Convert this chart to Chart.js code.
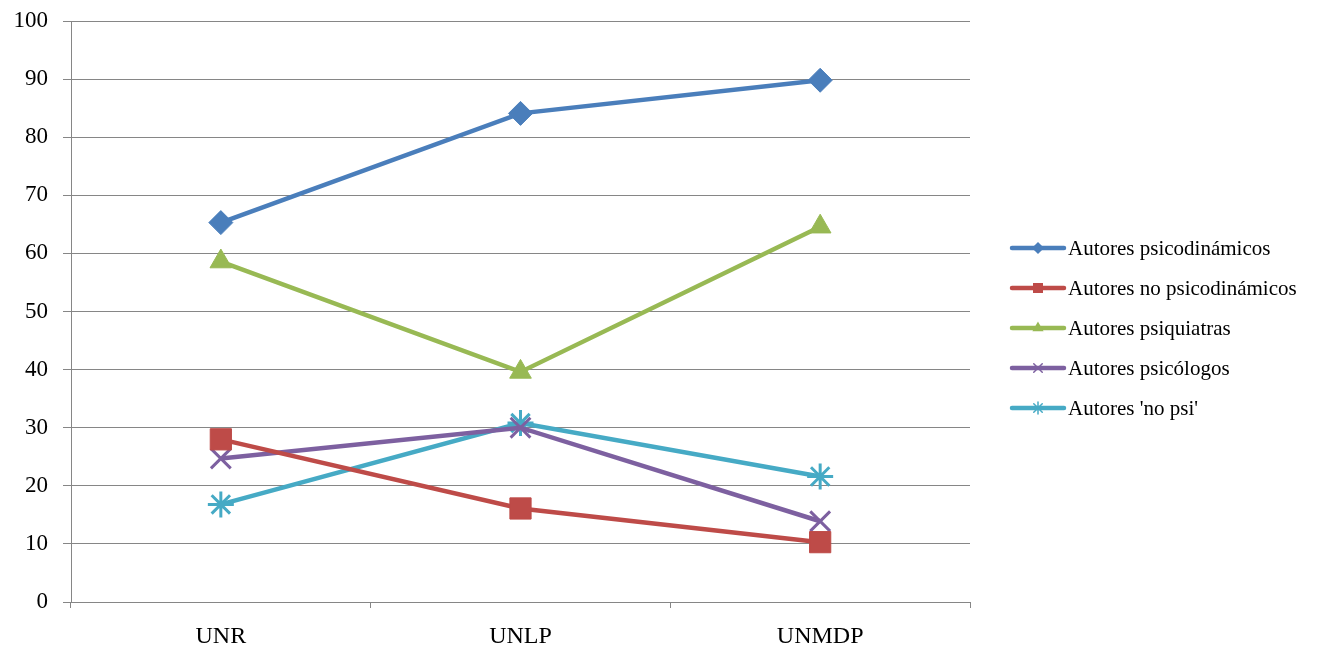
<!DOCTYPE html>
<html>
<head>
<meta charset="utf-8">
<script src="https://cdn.jsdelivr.net/npm/chart.js@4"></script>
<style>
html,body{margin:0;padding:0;background:#fff;}
#wrap{width:1318px;height:645px;position:relative;}
</style>
</head>
<body>
<div id="wrap"><canvas id="c"></canvas></div>
<script>
const categories = ['UNR', 'UNLP', 'UNMDP'];
const psicodinamicos = [65.3, 84.1, 89.8];
const noPsicodinamicos = [28.0, 16.1, 10.3];
const psiquiatras = [58.6, 39.6, 64.6];
const psicologos = [24.7, 30.0, 13.9];
const noPsi = [16.8, 30.8, 21.6];
const yTicks = [0, 10, 20, 30, 40, 50, 60, 70, 80, 90, 100];

const FONT = "'Liberation Serif', 'Times New Roman', serif";

function ds(label, data, color, style, radius, bw, lr) {
  return {
    label, data,
    borderColor: color, backgroundColor: color,
    pointBackgroundColor: color, pointBorderColor: color,
    pointStyle: style, pointRadius: radius, pointHoverRadius: radius,
    pointBorderWidth: bw, borderWidth: 4.5, tension: 0,
    legendRadius: lr
  };
}

const legendPlugin = {
  id: 'customLegend',
  afterDraw(chart) {
    const ctx = chart.ctx;
    const x0 = 1012, x1 = 1064, tx = 1068;
    const startY = 248, step = 40;
    ctx.save();
    chart.data.datasets.forEach((d, i) => {
      const y = startY + i * step;
      ctx.strokeStyle = d.borderColor;
      ctx.lineWidth = 4.5;
      ctx.lineCap = 'round';
      ctx.beginPath(); ctx.moveTo(x0, y); ctx.lineTo(x1, y); ctx.stroke();
      ctx.fillStyle = d.backgroundColor; ctx.strokeStyle = d.borderColor; ctx.lineWidth = 1.5;
      Chart.helpers.drawPoint(ctx, {pointStyle: d.pointStyle, radius: d.legendRadius, rotation: 0, borderWidth: 1.5}, (x0 + x1) / 2, y);
      ctx.fillStyle = '#000';
      ctx.font = '21px ' + FONT;
      ctx.textBaseline = 'middle';
      ctx.textAlign = 'left';
      ctx.fillText(d.label, tx, y + 1);
    });
    ctx.restore();
  }
};

new Chart(document.getElementById('c'), {
  type: 'line',
  data: {
    labels: categories,
    datasets: [
      ds('Autores psicodinámicos', psicodinamicos, '#4a7ebb', 'rectRot', 12, 1, 5),
      ds('Autores no psicodinámicos', noPsicodinamicos, '#be4b48', 'rect', 15, 1, 6),
      ds('Autores psiquiatras', psiquiatras, '#98b954', 'triangle', 12.5, 1, 5),
      ds('Autores psicólogos', psicologos, '#7d60a0', 'crossRot', 14, 3, 6),
      ds("Autores 'no psi'", noPsi, '#46aac5', 'star', 13, 3, 6)
    ]
  },
  options: {
    responsive: true,
    maintainAspectRatio: false,
    animation: false,
    layout: { padding: { top: 21, left: 0, right: 348, bottom: 0 } },
    plugins: { legend: { display: false }, tooltip: { enabled: false } },
    scales: {
      x: {
        offset: true,
        grid: { offset: true, drawOnChartArea: false, drawTicks: true, tickLength: 6, color: '#868686', lineWidth: 1 },
        border: { color: '#868686', width: 1 },
        ticks: { color: '#000', font: { family: FONT, size: 24 }, padding: 14 },
        afterFit(s) { s.height = 43; s.paddingLeft = 0; s.paddingRight = 0; }
      },
      y: {
        min: 0, max: 100,
        afterBuildTicks(s) { s.ticks = yTicks.map(v => ({ value: v })); },
        grid: { color: '#868686', lineWidth: 1, tickLength: 8 },
        border: { color: '#868686', width: 1 },
        ticks: { color: '#000', font: { family: FONT, size: 23 }, padding: 15 },
        afterFit(s) { s.width = 71; s.paddingTop = 0; s.paddingBottom = 0; }
      }
    }
  },
  plugins: [legendPlugin]
});
</script>
</body>
</html>
